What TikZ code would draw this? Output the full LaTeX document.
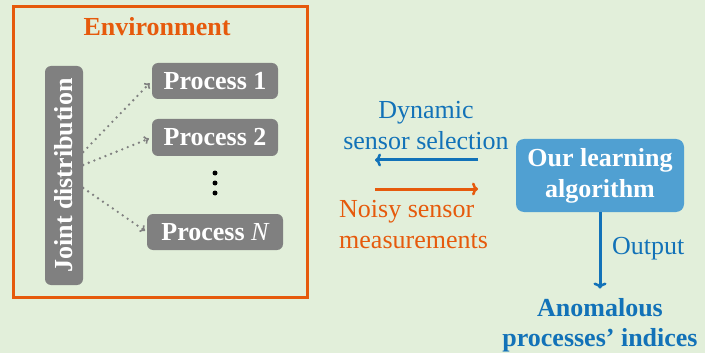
\documentclass[tikz,border=0pt]{standalone}
\usepackage{fontspec}
\setmainfont{Liberation Serif}
\usetikzlibrary{calc,arrows.meta}
\definecolor{bggreen}{RGB}{226,239,218}
\definecolor{envorange}{RGB}{230,90,12}
\definecolor{txtblue}{RGB}{18,114,184}
\definecolor{boxblue}{RGB}{80,160,210}
\definecolor{procgray}{RGB}{128,128,128}
\tikzset{
  basefont/.style={font=\fontsize{26}{31}\selectfont},
  graybox/.style={basefont, fill=procgray, text=white, rounded corners=6pt, inner sep=0pt, font=\fontsize{26}{31}\selectfont\bfseries},
  dotarrow/.style={procgray, line width=2.6pt, dash pattern=on 0pt off 6pt, line cap=round, -{To[length=5pt,width=9pt,line width=1.6pt,line cap=butt]}},
  mainarrow/.style={line width=3pt, -{To[length=6pt,width=13pt,line width=2.5pt]}},
}
\begin{document}
\begin{tikzpicture}[x=1pt, y=-1pt]
\useasboundingbox (0,0) rectangle (716,353);
\fill[bggreen] (0,0) rectangle (705,353);
% environment frame
\draw[envorange, line width=3pt] (13,7) rectangle (307,297);
\node[basefont, anchor=base, text=envorange, font=\fontsize{26}{31}\selectfont\bfseries, inner sep=0pt] (env) at (157,36) {Environment};
% joint distribution
\node[graybox, rotate=90, minimum width=219pt, minimum height=38pt] (jd) at (64,175.5) {Joint distribution};
% processes
\node[graybox, minimum width=126pt, minimum height=36pt] (p1) at (215,81) {Process 1};
\node[graybox, minimum width=126pt, minimum height=37pt] (p2) at (215,137.5) {Process 2};
\node[graybox, minimum width=136pt, minimum height=36pt] (pN) at (215,232) {Process {\mdseries\itshape N}};
\fill[black] (215,173) circle (2.5pt) (215,183) circle (2.5pt) (215,193) circle (2.5pt);
% dotted arrows
\draw[dotarrow, shorten >=3pt] (jd.south |- 0,152) -- (p1.west);
\draw[dotarrow, shorten >=3pt] (jd.south |- 0,165) -- (p2.west);
\draw[dotarrow, shorten >=2pt] (jd.south |- 0,188) -- (pN.west);
% algorithm box
\node[basefont, fill=boxblue, text=white, rounded corners=8pt, minimum width=168pt, minimum height=73pt, align=center, inner sep=0pt, font=\fontsize{26}{31}\selectfont\bfseries] (alg) at (600,175.5) {Our learning\\algorithm};
% dynamic sensor selection
\node[basefont, text=txtblue, align=center, inner sep=0pt] (dyn) at (426,125.5) {Dynamic\\sensor selection};
\coordinate (selA) at (478,160);
\coordinate (selB) at (375,160);
\draw[mainarrow, txtblue] (selA) -- (selB);
% noisy measurements
\coordinate (noiA) at (375,189);
\coordinate (noiB) at (478,189);
\draw[mainarrow, envorange] (noiA) -- (noiB);
\node[basefont, text=envorange, align=left, anchor=north west, inner sep=0pt] (noisy) at (339,200) {Noisy sensor\\measurements};
% output
\node[basefont, text=txtblue, align=center, inner sep=0pt, font=\fontsize{26}{30}\selectfont\bfseries] (anom) at (600,325.5) {Anomalous\\processes’ indices};
\draw[mainarrow, txtblue, shorten >=10pt] (alg.south) -- (anom.north);
\node[basefont, text=txtblue, anchor=west, inner sep=0pt] (out) at (612,249) {Output};
\end{tikzpicture}
\end{document}
